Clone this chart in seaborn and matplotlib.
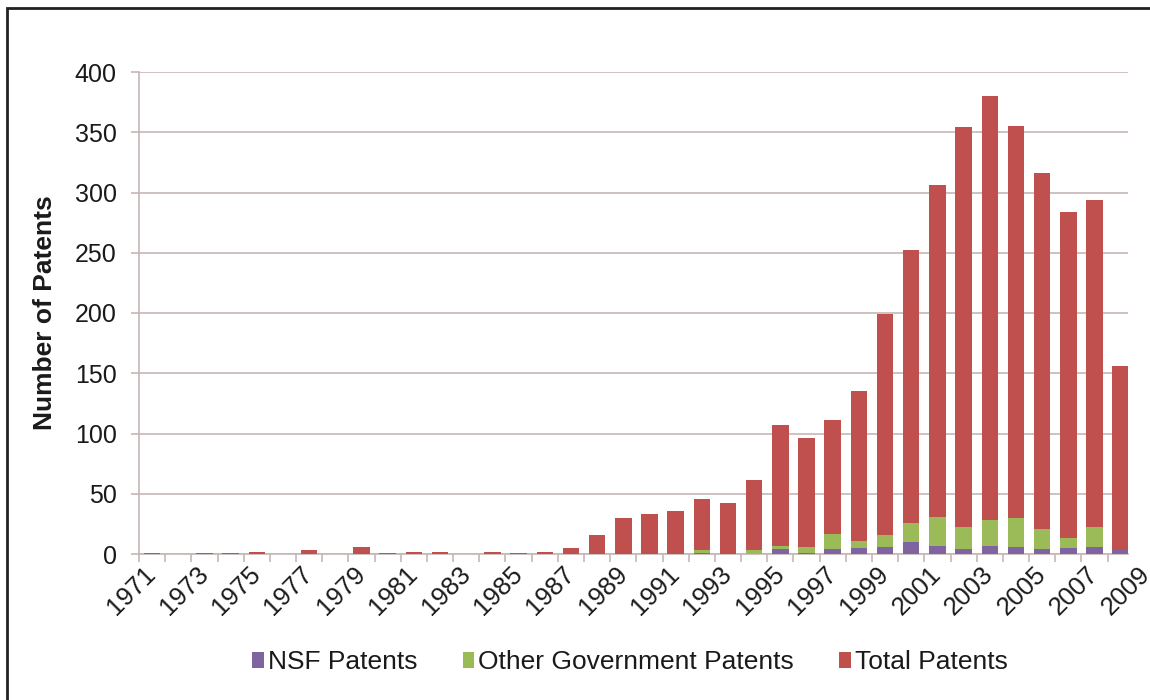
import matplotlib
matplotlib.use("Agg")
import matplotlib.pyplot as plt
import matplotlib.patches as mpatches
import matplotlib.transforms as mtransforms
import seaborn as sns
import pandas as pd
import numpy as np

# ---- data ----
years = [str(y) for y in range(1971, 2010)]          # categories on the axis (2009 is cut off)
data_years = [str(y) for y in range(1971, 2009)]     # years with visible bars
total_patents = [1, 0, 1, 1, 2, 0, 3, 0, 6, 1, 2, 2, 0, 2, 1, 2, 5, 16, 30, 33,
                 36, 46, 42, 61, 107, 96, 111, 135, 199, 252, 306, 354, 380, 355, 316, 284, 294, 156]
other_gov_patents = [0, 0, 0, 0, 0, 0, 0, 0, 0, 0, 0, 0, 0, 0, 0, 0, 0, 0, 0, 0,
                     0, 2, 0, 3, 3, 5, 13, 6, 10, 16, 24, 18, 21, 24, 17, 8, 16, 0]
nsf_patents = [0, 0, 0, 0, 0, 0, 0, 0, 0, 0, 0, 0, 0, 0, 0, 0, 0, 0, 0, 0,
               0, 1, 0, 0, 4, 1, 4, 5, 6, 10, 7, 4, 7, 6, 4, 5, 6, 3]
series_names = ["NSF Patents", "Other Government Patents", "Total Patents"]
tick_years = years[::2]

# ---- styling ----
C_NSF = "#8064A2"
C_OTH = "#9BBB59"
C_TOT = "#C0504D"
GRID = "#c8b6b6"
TXT = "#1a1a1a"
FONT = ["Liberation Sans", "DejaVu Sans"]

sns.set_theme(style="white")
plt.rcParams["font.family"] = FONT

df = pd.DataFrame({
    "year": data_years,
    "nsf": nsf_patents,
    "other_cum": np.array(nsf_patents) + np.array(other_gov_patents),
    "total": total_patents,
})

fig = plt.figure(figsize=(11.5, 7), dpi=100)
ax = fig.add_axes([139 / 1150, 1 - 554 / 700, (1128 - 139) / 1150, (554 - 72) / 700])

bw = 0.63
common = dict(data=df, x="year", order=years, width=bw, saturation=1, ax=ax, linewidth=0)
sns.barplot(y="total", color=C_TOT, label=series_names[2], zorder=3, **common)
sns.barplot(y="other_cum", color=C_OTH, label=series_names[1], zorder=4, **common)
sns.barplot(y="nsf", color=C_NSF, label=series_names[0], zorder=5, **common)
if ax.get_legend() is not None:
    ax.get_legend().remove()

ax.set_yticks(np.arange(0, 401, 50))
ax.yaxis.grid(True, color=GRID, linewidth=1.2, zorder=0)
ax.set_axisbelow(True)

for s in ["top", "right"]:
    ax.spines[s].set_visible(False)
for s in ["left", "bottom"]:
    ax.spines[s].set_color(GRID)
    ax.spines[s].set_linewidth(1.2)

ax.tick_params(axis="y", which="major", length=6, width=1.2, color=GRID,
               labelsize=18, labelcolor=TXT, pad=10, left=True)

# x: labels every other year at category centres, ticks at category boundaries
ax.set_xticks(range(0, len(years), 2))
ax.set_xticklabels(tick_years)
ax.set_xticks(np.arange(-0.5, len(years), 1.0), minor=True)
ax.tick_params(axis="x", which="minor", length=6, width=1.2, color=GRID, bottom=True)
ax.tick_params(axis="x", which="major", length=0, labelsize=18.5, labelcolor=TXT, pad=12)
for lab in ax.get_xticklabels():
    lab.set_rotation(45)
    lab.set_ha("right")
    lab.set_va("center")
    lab.set_rotation_mode("anchor")

# limits after ticks (the plot area cuts through the 2008 bar)
ax.set_ylim(0, 400)
ax.set_xlim(-0.5, 37.28)

# the 2009 label lies beyond the clipped plot area
off = mtransforms.ScaledTranslation(0, -12 / 72, fig.dpi_scale_trans)
ax.text(len(years) - 1, 0, years[-1], transform=ax.get_xaxis_transform() + off, rotation=45,
        rotation_mode="anchor", ha="right", va="center", fontsize=18.5, color=TXT,
        clip_on=False)

ax.set_xlabel("")
ax.set_ylabel("Number of Patents", fontsize=19, fontweight="bold", color=TXT)
ax.yaxis.set_label_coords((57 - 139) / 989, 0.5)

handles, labels = ax.get_legend_handles_labels()
hmap = dict(zip(labels, handles))
leg = fig.legend([hmap[n] for n in series_names], series_names, loc="center",
                 bbox_to_anchor=(630 / 1150, (700 - 662) / 700), ncol=3, frameon=False,
                 fontsize=19, handlelength=0.45, handleheight=0.55, handletextpad=0.15,
                 columnspacing=1.7)
for t in leg.get_texts():
    t.set_color(TXT)

# outer frame (only top and left edges fall inside the picture)
frame = mpatches.Rectangle((7 / 1150, -0.05), 1.2, 1 - 8 / 700 + 0.05, transform=fig.transFigure,
                           fill=False, edgecolor="#222222", linewidth=2.0, zorder=10)
fig.patches.append(frame)

fig.savefig("out.png", dpi=100)
